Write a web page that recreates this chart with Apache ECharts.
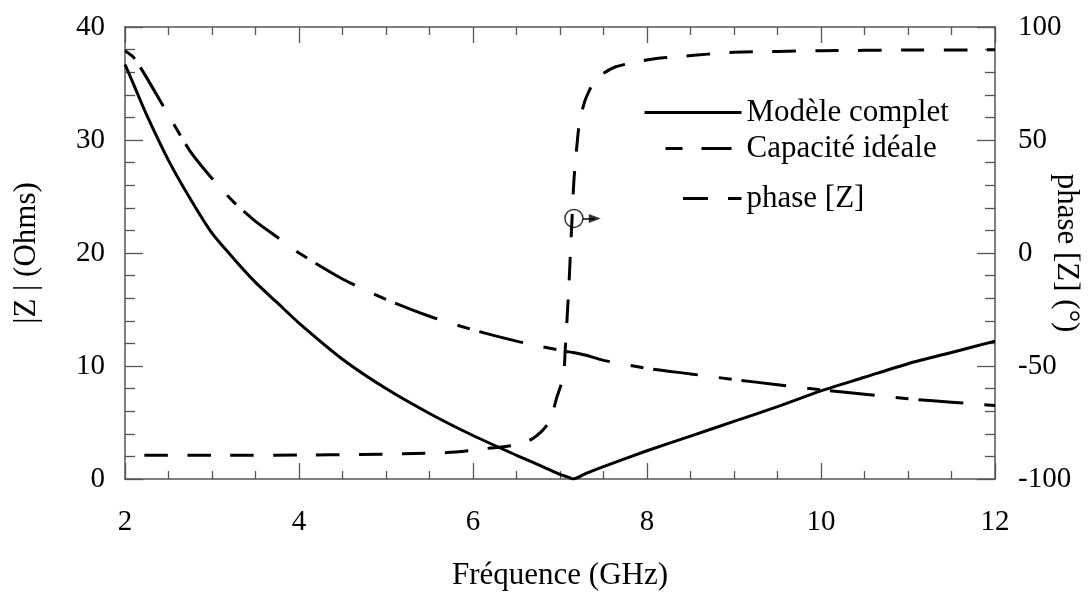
<!DOCTYPE html>
<html>
<head>
<meta charset="utf-8">
<script src="https://cdn.jsdelivr.net/npm/echarts@6/dist/echarts.min.js"></script>
<style>
html,body{margin:0;padding:0;background:#fff;}
#chart{width:1089px;height:596px;}
</style>
</head>
<body>
<div id="chart"></div>
<script>
// ---- data ----
const magFreq  = [2.0, 2.1, 2.25, 2.5, 2.75, 3.0, 3.25, 3.5, 3.75, 4.0, 4.5, 5.0, 5.5, 6.0, 6.5, 6.8, 7.0, 7.1, 7.15, 7.3, 7.5, 8.0, 8.5, 9.0, 9.5, 10.0, 10.5, 11.0, 11.5, 12.0];
const modelMag = [36.7, 34.9, 32.2, 28.2, 24.8, 21.75, 19.5, 17.4, 15.6, 13.8, 10.6, 8.0, 5.8, 3.85, 2.1, 1.1, 0.4, 0.15, 0.0, 0.5, 1.1, 2.5, 3.8, 5.1, 6.4, 7.8, 9.0, 10.2, 11.2, 12.2];
const capMag   = [37.9, 37.3, 35.5, 32.2, 29.0, 26.6, 24.5, 22.8, 21.4, 20.0, 17.7, 15.9, 14.4, 13.2, 12.2, 11.7, 11.4, 11.25, 11.2, 10.95, 10.5, 9.8, 9.3, 8.8, 8.35, 7.9, 7.5, 7.1, 6.8, 6.5];

const phaseFreq = [2.0, 3.0, 4.0, 4.7, 5.2, 5.7, 5.95, 6.2, 6.45, 6.66, 6.8, 6.89, 6.96, 7.04, 7.06, 7.08, 7.10, 7.115, 7.138, 7.16, 7.195, 7.224, 7.29, 7.40, 7.5, 7.64, 7.88, 8.11, 8.38, 8.7, 9.0, 10.0, 11.0, 12.0];
const phaseDeg  = [-89.5, -89.5, -89.4, -89.2, -88.8, -88.3, -87.5, -86.3, -85.2, -82.7, -78.5, -73.9, -64.3, -54.7, -42.9, -29.6, -16.4, -4, 15, 32.3, 47.8, 58, 67.7, 76.5, 79.5, 82.4, 84.6, 86.1, 86.9, 88.0, 88.8, 89.5, 89.8, 89.9];

const markerPoint = [7.16, 15.3];      // circle marking the phase curve (right axis)
const arrowFrom   = [7.265, 15.3];
const arrowTip    = [7.40, 15.3];

const xTicks = {min: 2, max: 12, interval: 2};
const yLeft  = {min: 0, max: 40, interval: 10};
const yRight = {min: -100, max: 100, interval: 50};

const seriesNames = ['Modèle complet', 'Capacité idéale', 'phase [Z]'];

// ---- chart ----
const FONT = 'Liberation Serif';
const AX = '#555';
const chart = echarts.init(document.getElementById('chart'), null, {renderer: 'canvas'});

function zip(xs, ys) { return xs.map((x, i) => [x, ys[i]]); }

const axisLineStyle = {onZero: false, lineStyle: {color: AX, width: 1.5}};
const tickStyle = (len) => ({show: true, inside: true, length: len, lineStyle: {color: AX, width: 1.3}});
const minorStyle = (n, len) => ({show: true, splitNumber: n, length: len, lineStyle: {color: AX, width: 1.3}});

const legendBase = {
  orient: 'vertical', padding: 0, itemGap: 0,
  textStyle: {fontFamily: FONT, fontSize: 31, color: '#000', lineHeight: 30},
  itemHeight: 14,
  itemStyle: {opacity: 0, color: 'rgba(0,0,0,0)', borderWidth: 0}
};

chart.setOption({
  animation: false,
  backgroundColor: '#fff',
  grid: {left: 125, right: 94, top: 27, bottom: 117, containLabel: false, outerBoundsMode: 'none'},
  legend: [
    Object.assign({}, legendBase, {data: [seriesNames[0]], left: 643, top: 97, itemWidth: 97,
      lineStyle: {type: 'solid', width: 3}}),
    Object.assign({}, legendBase, {data: [seriesNames[1]], left: 664, top: 133, itemWidth: 76,
      lineStyle: {type: [17, 19, 30, 20], width: 3}}),
    Object.assign({}, legendBase, {data: [seriesNames[2]], left: 664, top: 183, itemWidth: 76,
      lineStyle: {type: [20, 21, 25, 20], width: 3}})
  ],
  xAxis: [
    {
      type: 'value', position: 'bottom', min: xTicks.min, max: xTicks.max, interval: xTicks.interval,
      name: 'Fréquence (GHz)', nameLocation: 'middle', nameGap: 81, nameMoveOverlap: false,
      nameTextStyle: {fontFamily: FONT, fontSize: 31, color: '#000'},
      axisLine: axisLineStyle, axisTick: tickStyle(16), minorTick: minorStyle(4, 8),
      axisLabel: {fontFamily: FONT, fontSize: 29, color: '#000', margin: 29},
      splitLine: {show: false}
    },
    {
      type: 'value', position: 'top', min: xTicks.min, max: xTicks.max, interval: xTicks.interval,
      axisLine: axisLineStyle, axisTick: tickStyle(16), minorTick: minorStyle(4, 8),
      axisLabel: {show: false}, splitLine: {show: false}
    }
  ],
  yAxis: [
    {
      type: 'value', position: 'left', min: yLeft.min, max: yLeft.max, interval: yLeft.interval,
      name: '|Z | (Ohms)', nameLocation: 'middle', nameGap: 83, nameRotate: 90, nameMoveOverlap: false,
      nameTextStyle: {fontFamily: FONT, fontSize: 31, color: '#000'},
      axisLine: axisLineStyle, axisTick: tickStyle(18), minorTick: minorStyle(5, 10),
      axisLabel: {fontFamily: FONT, fontSize: 29, color: '#000', margin: 20},
      splitLine: {show: false}
    },
    {
      type: 'value', position: 'right', min: yRight.min, max: yRight.max, interval: yRight.interval,
      name: 'phase [Z] (°)', nameLocation: 'middle', nameGap: 56, nameRotate: -90, nameMoveOverlap: false,
      nameTextStyle: {fontFamily: FONT, fontSize: 31, color: '#000'},
      axisLine: axisLineStyle, axisTick: tickStyle(18), minorTick: minorStyle(5, 10),
      axisLabel: {fontFamily: FONT, fontSize: 29, color: '#000', margin: 23},
      splitLine: {show: false}
    }
  ],
  series: [
    {
      name: seriesNames[0], type: 'line', xAxisIndex: 0, yAxisIndex: 0,
      data: zip(magFreq, modelMag), symbol: 'none', smooth: 0.25,
      itemStyle: {color: '#000'},
      lineStyle: {color: '#000', width: 3}
    },
    {
      name: seriesNames[1], type: 'line', xAxisIndex: 0, yAxisIndex: 0,
      data: zip(magFreq, capMag), symbol: 'none', smooth: 0.25,
      itemStyle: {color: '#000'},
      lineStyle: {color: '#000', width: 3, type: [13, 10, 45, 21]}
    },
    {
      name: seriesNames[2], type: 'line', xAxisIndex: 0, yAxisIndex: 1,
      data: zip(phaseFreq, phaseDeg), symbol: 'none', smooth: 0.2,
      itemStyle: {color: '#000'},
      lineStyle: {color: '#000', width: 3, type: [23.5, 19.4], dashOffset: 23.5}
    },
    {
      name: 'marker', type: 'scatter', xAxisIndex: 0, yAxisIndex: 1,
      data: [markerPoint], symbol: 'circle', symbolSize: 18, silent: true, z: 5,
      itemStyle: {color: 'rgba(0,0,0,0)', borderColor: '#000', borderWidth: 1.5},
      markLine: {
        silent: true, symbol: ['none', 'none'],
        label: {show: false},
        lineStyle: {color: '#000', width: 1.5, type: 'solid'},
        data: [[{coord: arrowFrom}, {coord: arrowTip}]]
      }
    },
    {
      name: 'arrowhead', type: 'scatter', xAxisIndex: 0, yAxisIndex: 1,
      data: [arrowTip], symbol: 'triangle', symbolRotate: -90, symbolSize: [9, 12], silent: true, z: 5,
      itemStyle: {color: '#000'}
    }
  ]
});
</script>
</body>
</html>
